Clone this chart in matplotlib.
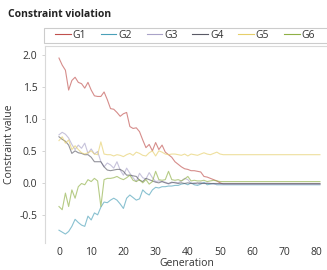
import numpy as np
import matplotlib
matplotlib.use("Agg")
import matplotlib.pyplot as plt
from matplotlib.lines import Line2D
from matplotlib.patches import Rectangle

plt.rcParams['font.family'] = ['Open Sans', 'DejaVu Sans']

# values, generation 0..51, flat afterwards up to 81
g1 = [1.95, 1.84, 1.76, 1.45, 1.60, 1.65, 1.57, 1.55, 1.48, 1.57,
      1.45, 1.36, 1.35, 1.35, 1.42, 1.30, 1.16, 1.15, 1.10, 1.04,
      1.08, 1.10, 0.88, 0.85, 0.86, 0.80, 0.67, 0.55, 0.60, 0.50,
      0.63, 0.52, 0.59, 0.48, 0.44, 0.40, 0.33, 0.29, 0.25, 0.22,
      0.21, 0.19, 0.19, 0.18, 0.17, 0.10, 0.09, 0.07, 0.05, 0.03,
      0.00, -0.02] + [-0.02] * 30
g2 = [-0.74, -0.77, -0.80, -0.76, -0.68, -0.57, -0.62, -0.66, -0.68, -0.52,
      -0.58, -0.47, -0.50, -0.38, -0.30, -0.31, -0.27, -0.24, -0.27, -0.33,
      -0.40, -0.24, -0.19, -0.23, -0.27, -0.25, -0.11, -0.16, -0.19, -0.11,
      -0.07, -0.08, -0.06, -0.06, -0.05, -0.05, -0.04, -0.04, -0.02, -0.01,
      -0.03, 0.00, -0.03, -0.04, -0.02, 0.01, -0.03, -0.02, -0.01, -0.03,
      -0.03, -0.03] + [-0.03] * 30
g3 = [0.75, 0.79, 0.76, 0.70, 0.60, 0.52, 0.59, 0.54, 0.62, 0.46,
      0.53, 0.45, 0.49, 0.33, 0.25, 0.31, 0.28, 0.23, 0.33, 0.20,
      0.12, 0.23, 0.15, 0.08, 0.02, 0.15, 0.08, 0.06, 0.16, 0.08,
      0.02, 0.03, 0.02, 0.01, -0.02, 0.00, 0.01, 0.00, 0.03, 0.07,
      0.05, -0.01, 0.00, -0.02, 0.01, -0.01, 0.00, -0.01, -0.02, -0.02,
      -0.02, -0.02] + [-0.02] * 30
g4 = [0.72, 0.68, 0.65, 0.59, 0.46, 0.50, 0.47, 0.46, 0.44, 0.44,
      0.40, 0.33, 0.33, 0.33, 0.25, 0.20, 0.19, 0.20, 0.21, 0.21,
      0.18, 0.12, 0.12, 0.11, 0.10, 0.04, 0.02, 0.07, 0.05, 0.03,
      0.01, 0.00, 0.02, 0.00, -0.01, 0.01, 0.00, -0.01, 0.00, -0.01,
      0.00, -0.01, -0.01, 0.00, -0.01, -0.01, -0.01, -0.01, -0.01, -0.01,
      -0.01, -0.01] + [-0.01] * 30
g5 = [0.66, 0.72, 0.62, 0.67, 0.52, 0.58, 0.52, 0.47, 0.45, 0.47,
      0.50, 0.45, 0.44, 0.64, 0.45, 0.44, 0.44, 0.42, 0.44, 0.43,
      0.41, 0.44, 0.46, 0.43, 0.48, 0.46, 0.43, 0.42, 0.47, 0.50,
      0.42, 0.50, 0.48, 0.45, 0.44, 0.45, 0.45, 0.44, 0.43, 0.45,
      0.42, 0.45, 0.44, 0.43, 0.45, 0.47, 0.45, 0.44, 0.46, 0.48,
      0.45, 0.44] + [0.44] * 30
g6 = [-0.37, -0.42, -0.16, -0.37, -0.11, -0.24, -0.06, -0.01, -0.03, 0.05,
      0.02, 0.07, 0.03, -0.37, 0.05, 0.07, 0.07, 0.08, 0.10, 0.07,
      0.05, 0.08, 0.12, 0.04, 0.02, 0.05, 0.00, 0.05, -0.02, 0.02,
      0.18, 0.05, 0.04, 0.05, 0.18, 0.05, 0.04, 0.05, 0.03, 0.06,
      0.10, 0.03, 0.04, 0.03, 0.03, 0.04, 0.02, 0.03, 0.04, 0.03,
      0.02, 0.02] + [0.02] * 30

names = ['G1', 'G2', 'G3', 'G4', 'G5', 'G6']
colors = ['#c0504d', '#4aa0b8', '#a9a3c8', '#5a5a66', '#e6cf6a', '#8fb045']
series = [g1, g2, g3, g4, g5, g6]
gen = np.arange(len(g1))

fig = plt.figure(figsize=(3.27, 2.70), dpi=100)
ax = fig.add_axes([0.138, 0.10, 0.865, 0.73])

for s, c, n in zip(series, colors, names):
    ax.plot(gen, s, color=c, lw=0.8, alpha=0.65)

ax.set_xlim(-4.3, 83.5)
ax.set_ylim(-0.94, 2.14)
ax.set_xticks([0, 10, 20, 30, 40, 50, 60, 70, 80])
ax.set_yticks([-0.5, 0.0, 0.5, 1.0, 1.5, 2.0])
ax.set_yticklabels(['-0.5', '0.0', '0.5', '1.0', '1.5', '2.0'])
ax.tick_params(axis='both', labelsize=7.5, colors='#333333', length=0, pad=3)
ax.tick_params(axis='y', length=2.5, color='#cccccc', width=0.6)
for side in ['right', 'bottom']:
    ax.spines[side].set_visible(False)
for side in ['left', 'top']:
    ax.spines[side].set_color('#d9d9d9')
    ax.spines[side].set_linewidth(0.8)

ax.set_xlabel('Generation', fontsize=7.5, color='#333333', labelpad=0)
ax.set_ylabel('Constraint value', fontsize=7.5, color='#333333', labelpad=3)

fig.text(0.025, 0.948, 'Constraint violation', fontsize=7.5, fontweight='bold',
         color='#222222', va='center', ha='left')

# legend box runs past the right edge, as in the reference
fig.patches.append(Rectangle((0.136, 0.841), 0.9, 0.055, transform=fig.transFigure,
                             facecolor='white', edgecolor='#cccccc', lw=0.8))
handles = [Line2D([], [], color=c, lw=0.8) for c in colors]
leg = fig.legend(handles, names, ncol=6, loc='center left',
                 bbox_to_anchor=(0.162, 0.8685), frameon=False,
                 fontsize=7.5, handlelength=1.5, handletextpad=0.2,
                 columnspacing=1.4, borderpad=0.2, borderaxespad=0)
for t in leg.get_texts():
    t.set_color('#333333')

fig.savefig('out.png', dpi=100)
